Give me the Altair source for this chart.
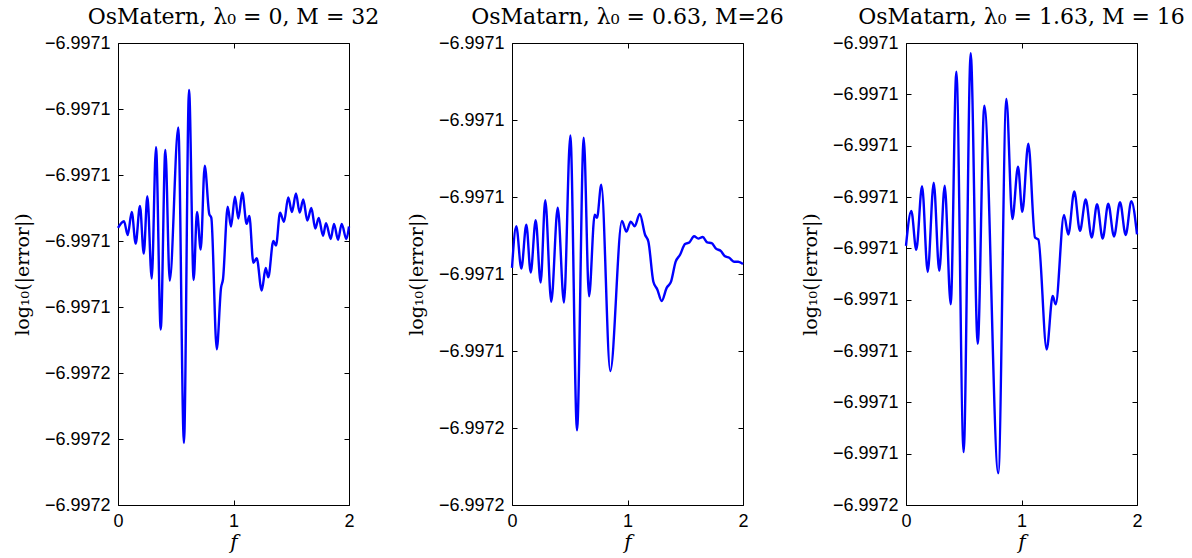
import altair as alt
import pandas as pd

# ---------------- data ----------------
# y values are given in tick units (0 = lowest tick, n = highest tick)
p1_f = [0.0, 0.052, 0.084, 0.119, 0.153, 0.190, 0.223, 0.254, 0.292, 0.329,
        0.370, 0.410, 0.448, 0.522, 0.571, 0.615, 0.655, 0.684, 0.716, 0.751,
        0.790, 0.808, 0.855, 0.892, 0.909, 0.950, 0.978, 1.013, 1.042, 1.076,
        1.114, 1.137, 1.172, 1.201, 1.244, 1.279, 1.301, 1.345, 1.368, 1.403,
        1.437, 1.474, 1.506, 1.541, 1.573, 1.604, 1.639, 1.674, 1.708, 1.738,
        1.775, 1.801, 1.842, 1.870, 1.905, 1.937, 1.977, 2.0]
p1_v = [4.20, 4.30, 4.09, 4.44, 3.96, 4.53, 3.81, 4.68, 3.43, 5.42,
        2.66, 5.38, 3.40, 5.72, 0.94, 6.29, 3.41, 4.44, 3.87, 5.14,
        4.41, 4.35, 2.36, 3.29, 3.42, 4.52, 4.22, 4.67, 4.34, 4.73,
        4.26, 4.38, 3.67, 3.74, 3.25, 3.59, 3.45, 4.00, 3.93, 4.43,
        4.29, 4.66, 4.44, 4.72, 4.43, 4.63, 4.31, 4.50, 4.19, 4.35,
        4.08, 4.27, 4.03, 4.26, 4.02, 4.26, 4.03, 4.22]
p1_labels = ["−6.9972", "−6.9972", "−6.9972", "−6.9971", "−6.9971",
             "−6.9971", "−6.9971", "−6.9971"]

p2_f = [0.0, 0.037, 0.081, 0.124, 0.162, 0.205, 0.248, 0.288, 0.340, 0.396,
        0.450, 0.505, 0.563, 0.621, 0.667, 0.716, 0.736, 0.773, 0.851, 0.952,
        0.990, 1.028, 1.062, 1.106, 1.152, 1.181, 1.224, 1.258, 1.296, 1.339,
        1.377, 1.417, 1.455, 1.498, 1.535, 1.576, 1.613, 1.651, 1.691, 1.729,
        1.766, 1.807, 1.844, 1.881, 1.922, 1.959, 2.0]
p2_v = [3.08, 3.62, 3.07, 3.64, 3.02, 3.70, 2.89, 3.96, 2.64, 3.86,
        2.63, 4.80, 0.97, 4.77, 2.71, 3.77, 3.73, 4.16, 1.74, 3.69,
        3.55, 3.68, 3.62, 3.78, 3.51, 3.42, 2.90, 2.80, 2.65, 2.82,
        2.90, 3.16, 3.25, 3.39, 3.41, 3.49, 3.46, 3.48, 3.41, 3.40,
        3.33, 3.30, 3.23, 3.21, 3.16, 3.16, 3.13]
p2_labels = ["−6.9972", "−6.9972", "−6.9971", "−6.9971", "−6.9971",
             "−6.9971", "−6.9971"]

p3_f = [0.0, 0.046, 0.089, 0.139, 0.188, 0.240, 0.288, 0.335, 0.387, 0.436,
        0.499, 0.560, 0.621, 0.678, 0.799, 0.869, 0.921, 0.970, 1.007, 1.059,
        1.117, 1.146, 1.218, 1.270, 1.296, 1.368, 1.405, 1.457, 1.506, 1.556,
        1.608, 1.654, 1.703, 1.751, 1.801, 1.853, 1.902, 1.951, 2.0]
p3_v = [5.05, 5.73, 4.97, 6.21, 4.54, 6.28, 4.56, 6.22, 3.91, 8.44,
        1.03, 8.80, 3.14, 7.78, 0.62, 7.91, 5.57, 6.59, 5.71, 7.04,
        5.21, 5.17, 3.03, 4.07, 3.91, 5.65, 5.27, 6.11, 5.34, 5.95,
        5.21, 5.86, 5.19, 5.87, 5.23, 5.90, 5.26, 5.92, 5.27]
p3_labels = ["−6.9972", "−6.9971", "−6.9971", "−6.9971", "−6.9971",
             "−6.9971", "−6.9971", "−6.9971", "−6.9971", "−6.9971"]

x_ticks = [0, 1, 2]
x_labels = ["0", "1", "2"]
titles = ["OsMatern, λ₀ = 0, M = 32",
          "OsMatarn, λ₀ = 0.63, M=26",
          "OsMatarn, λ₀ = 1.63, M = 16"]

W, H = 231, 462


def arr_expr(labels):
    return "[" + ",".join("'" + s + "'" for s in labels) + "][round(datum.value)]"


def panel(f, v, labels, title):
    df = pd.DataFrame({"f": f, "v": v})
    n = len(labels) - 1
    yt = list(range(n + 1))
    xs = alt.Scale(domain=[0, 2], nice=False, zero=False)
    ys = alt.Scale(domain=[0, n], nice=False, zero=False)
    base = alt.Chart(df)
    main = base.mark_line(color="#0000ff", strokeWidth=2.4,
                          interpolate="monotone").encode(
        x=alt.X("f:Q", scale=xs,
                axis=alt.Axis(values=x_ticks, labelExpr=arr_expr(x_labels),
                              title="f", orient="bottom",
                              titleFontStyle="italic", titleFontSize=20,
                              titlePadding=2, labelPadding=7,
                              labelOverlap=False, labelFlush=False,
                              labelBound=False)),
        y=alt.Y("v:Q", scale=ys,
                axis=alt.Axis(values=yt, labelExpr=arr_expr(labels),
                              title="log₁₀(|error|)", orient="left",
                              titleFontSize=19, titlePadding=12,
                              labelPadding=8, labelOverlap=False)),
    )
    mirror = base.mark_line(strokeOpacity=0).encode(
        x=alt.X("f:Q", scale=xs,
                axis=alt.Axis(values=x_ticks, labels=False, title=None,
                              orient="top")),
        y=alt.Y("v:Q", scale=ys,
                axis=alt.Axis(values=yt, labels=False, title=None,
                              orient="right")),
    )
    return (alt.layer(main, mirror)
            .resolve_axis(x="independent", y="independent")
            .properties(width=W, height=H,
                        title=alt.TitleParams(title, anchor="middle",
                                              frame="group")))


chart = (alt.hconcat(panel(p1_f, p1_v, p1_labels, titles[0]),
                     panel(p2_f, p2_v, p2_labels, titles[1]),
                     panel(p3_f, p3_v, p3_labels, titles[2]),
                     spacing=163, bounds="flush")
         .properties(padding={"left": 12, "top": 5, "right": 5, "bottom": 5},
                     background="white")
         .configure_view(stroke="black", strokeWidth=1)
         .configure_axis(domain=False, grid=False, ticks=True,
                         tickColor="black", tickSize=5, tickWidth=1,
                         offset=-5, labelFont="Liberation Sans",
                         labelFontSize=18, labelColor="black",
                         titleFont="DejaVu Serif", titleFontWeight="normal",
                         titleColor="black")
         .configure_title(font="DejaVu Serif", fontSize=22,
                          fontWeight="normal", color="black", offset=5))

chart.save("out.html", embed_options={"renderer": "svg", "actions": False})
